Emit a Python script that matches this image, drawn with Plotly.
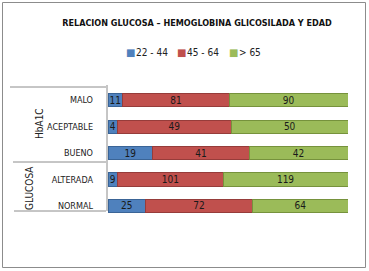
import plotly.graph_objects as go

categories = ["MALO", "ACEPTABLE", "BUENO", "ALTERADA", "NORMAL"]
groups = ["HbA1C", "GLUCOSA"]
series_names = ["22 - 44", "45 - 64", "> 65"]
v_22_44 = [11, 4, 19, 9, 25]
v_45_64 = [81, 49, 41, 101, 72]
v_gt65 = [90, 50, 42, 119, 64]
colors = ["#4F81BD", "#C0504D", "#9BBB59"]
line_colors = ["#3A6496", "#963C3A", "#76923C"]

W, H = 369, 271
L, R, T, B = 108, 21, 87, 52
PW, PH = W - L - R, H - T - B

def px(x):
    return (x - L) / PW

def py(y):
    return (H - B - y) / PH

FONT = "Liberation Sans Narrow, DejaVu Sans Condensed, sans-serif"

fig = go.Figure()
for name, vals, c, lc in zip(series_names, [v_22_44, v_45_64, v_gt65], colors, line_colors):
    fig.add_trace(go.Bar(
        y=categories, x=vals, name=name, orientation="h",
        marker=dict(color=c, line=dict(color=lc, width=1)),
        text=[str(v) for v in vals], textposition="inside",
        insidetextanchor="middle", constraintext="none",
        textfont=dict(color="#1a1a1a", size=10, family=FONT),
        showlegend=False,
    ))

line = dict(color="#8c8c8c", width=1)
shapes = [
    dict(type="rect", xref="paper", yref="paper", x0=px(2.5), x1=px(365.5), y0=py(267.5), y1=py(2.5), line=dict(color="#8c8c8c", width=1)),
    dict(type="line", xref="paper", yref="paper", x0=px(10), x1=px(106), y0=py(87), y1=py(87), line=line),
    dict(type="line", xref="paper", yref="paper", x0=px(13), x1=px(106), y0=py(162), y1=py(162), line=line),
    dict(type="line", xref="paper", yref="paper", x0=px(14), x1=px(106), y0=py(211), y1=py(211), line=line),
    dict(type="line", xref="paper", yref="paper", x0=px(107), x1=px(107), y0=py(85), y1=py(211), line=line),
]

annotations = [
    dict(text=groups[0], textangle=-90, xref="paper", yref="paper", x=px(27), y=py(124),
         showarrow=False, font=dict(size=10, family=FONT, color="#222"), xanchor="center", yanchor="middle",
         xshift=12),
    dict(text=groups[1], textangle=-90, xref="paper", yref="paper", x=px(29), y=py(188),
         showarrow=False, font=dict(size=10, family=FONT, color="#222"), xanchor="center", yanchor="middle"),
]

leg_sq_x = [130, 181, 233]
for name, c, sx in zip(series_names, colors, leg_sq_x):
    annotations.append(dict(text="■", xref="paper", yref="paper", x=px(sx), y=py(52),
                            showarrow=False, xanchor="center", yanchor="middle",
                            font=dict(size=10, family="DejaVu Sans", color=c)))
    annotations.append(dict(text=name, xref="paper", yref="paper", x=px(sx + 4), y=py(52),
                            showarrow=False, xanchor="left", yanchor="middle",
                            font=dict(size=10, family=FONT, color="#222")))

fig.update_layout(
    width=W, height=H,
    margin=dict(l=L, r=R, t=T, b=B),
    barmode="stack", barnorm="percent", bargap=0.5,
    paper_bgcolor="white", plot_bgcolor="white",
    title=dict(text="<b>RELACION GLUCOSA – HEMOGLOBINA GLICOSILADA Y EDAD</b>",
               xref="container", x=197 / W, xanchor="center",
               yref="container", y=1 - 23 / H, yanchor="middle",
               font=dict(size=9, family=FONT, color="#111")),
    xaxis=dict(range=[0, 100], visible=False, fixedrange=True),
    yaxis=dict(autorange="reversed", showline=False, showgrid=False, ticks="",
               ticklabelstandoff=14,
               tickfont=dict(size=9, family=FONT, color="#222")),
    shapes=shapes, annotations=annotations,
    showlegend=False,
)

fig.write_html("out.html")
